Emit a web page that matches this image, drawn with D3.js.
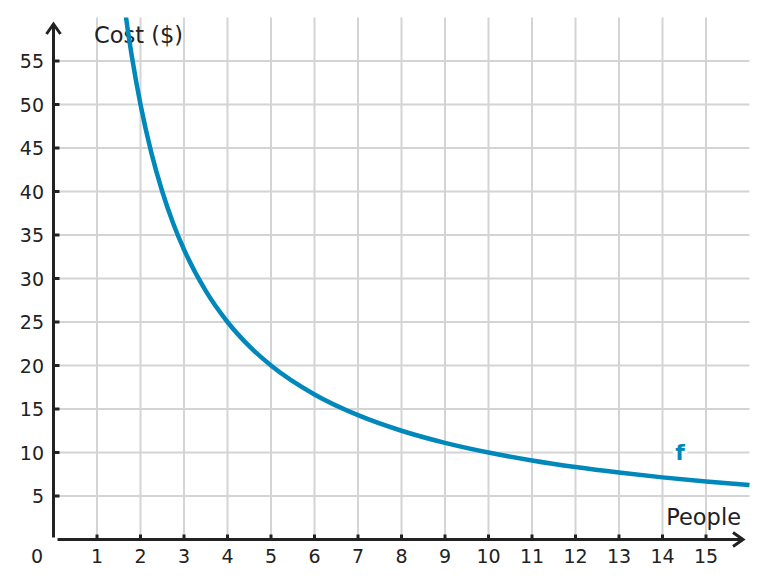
<!DOCTYPE html>
<html lang="en">
<head>
<meta charset="UTF-8">
<title>Cost per person</title>
<style>
  body { margin: 0; padding: 0; background: #fff; }
  svg { display: block; font-family: "DejaVu Sans", sans-serif; }
</style>
</head>
<body>
<svg id="chart" width="767" height="587"></svg>
<script src="https://d3js.org/d3.v7.min.js"></script>
<script>
// values
var people = [1.6, 1.7, 1.8, 2, 2.25, 2.5, 2.75, 3, 3.5, 4, 4.5, 5, 6, 7, 8, 9, 10, 11, 12, 13, 14, 15, 16];
var cost = [62.5, 58.82, 55.56, 50, 44.44, 40, 36.36, 33.33, 28.57, 25, 22.22, 20, 16.67, 14.29, 12.5, 11.11, 10, 9.09, 8.33, 7.69, 7.14, 6.67, 6.25];
var xTicks = [1, 2, 3, 4, 5, 6, 7, 8, 9, 10, 11, 12, 13, 14, 15];
var yTicks = [5, 10, 15, 20, 25, 30, 35, 40, 45, 50, 55];

var m = { left: 53.5, right: 749.5, top: 17.5, bottom: 539.5 };

var svg = d3.select("#chart");
var x = d3.scaleLinear().domain([0, 16]).range([m.left, m.right]);
var y = d3.scaleLinear().domain([0, 60]).range([m.bottom, m.top]);

// grid
var grid = svg.append("g").attr("stroke", "#d4d4d4").attr("stroke-width", 2);
grid.selectAll(".gx").data(xTicks).enter().append("line")
    .attr("x1", d => x(d)).attr("x2", d => x(d))
    .attr("y1", m.top).attr("y2", m.bottom);
grid.selectAll(".gy").data(yTicks).enter().append("line")
    .attr("x1", m.left).attr("x2", m.right)
    .attr("y1", d => y(d)).attr("y2", d => y(d));

// axes
var axisColor = "#222";
svg.append("line").attr("x1", m.left).attr("x2", m.left).attr("y1", 26).attr("y2", m.bottom - 2)
    .attr("stroke", axisColor).attr("stroke-width", 3);
svg.append("path").attr("d", "M" + (m.left - 7) + ",34 L" + m.left + ",24 L" + (m.left + 7) + ",34")
    .attr("fill", "none").attr("stroke", axisColor).attr("stroke-width", 3);
svg.append("line").attr("x1", m.left + 4).attr("x2", 741).attr("y1", m.bottom).attr("y2", m.bottom)
    .attr("stroke", axisColor).attr("stroke-width", 3);
svg.append("path").attr("d", "M733," + (m.bottom - 7) + " L743," + m.bottom + " L733," + (m.bottom + 7))
    .attr("fill", "none").attr("stroke", axisColor).attr("stroke-width", 3);

// ticks
svg.selectAll(".tx").data(xTicks).enter().append("line")
    .attr("x1", d => x(d)).attr("x2", d => x(d))
    .attr("y1", m.bottom - 5).attr("y2", m.bottom)
    .attr("stroke", axisColor).attr("stroke-width", 3);
svg.selectAll(".ty").data(yTicks).enter().append("line")
    .attr("x1", m.left).attr("x2", m.left + 6)
    .attr("y1", d => y(d)).attr("y2", d => y(d))
    .attr("stroke", axisColor).attr("stroke-width", 3);

// tick labels
svg.selectAll(".lx").data(xTicks).enter().append("text")
    .attr("x", d => x(d)).attr("y", 563)
    .attr("text-anchor", "middle").attr("font-size", 19).attr("fill", "#222")
    .text(d => d);
svg.selectAll(".ly").data(yTicks).enter().append("text")
    .attr("x", 44).attr("y", d => y(d) + 7)
    .attr("text-anchor", "end").attr("font-size", 19).attr("fill", "#222")
    .text(d => d);
svg.append("text").attr("x", 37).attr("y", 563).attr("text-anchor", "middle")
    .attr("font-size", 19).attr("fill", "#222").text("0");

// axis titles
svg.append("text").attr("x", 94).attr("y", 43).attr("font-size", 22.5).attr("fill", "#222").text("Cost ($)");
svg.append("text").attr("x", 741).attr("y", 525).attr("text-anchor", "end")
    .attr("font-size", 22.5).attr("fill", "#222").text("People");

// curve
svg.append("clipPath").attr("id", "clip").append("rect")
    .attr("x", m.left).attr("y", m.top).attr("width", m.right - m.left + 10).attr("height", m.bottom - m.top);
var line = d3.line().x((d, i) => x(people[i])).y(d => y(d)).curve(d3.curveMonotoneX);
svg.append("path").datum(cost)
    .attr("clip-path", "url(#clip)")
    .attr("d", line)
    .attr("fill", "none").attr("stroke", "#0088bb").attr("stroke-width", 4.5);

// curve label
svg.append("text").attr("x", 680).attr("y", 460).attr("text-anchor", "middle")
    .attr("font-size", 22).attr("font-weight", "bold").attr("fill", "#0088bb")
    .attr("stroke", "#fff").attr("stroke-width", 5).attr("paint-order", "stroke")
    .text("f");
</script>
</body>
</html>
